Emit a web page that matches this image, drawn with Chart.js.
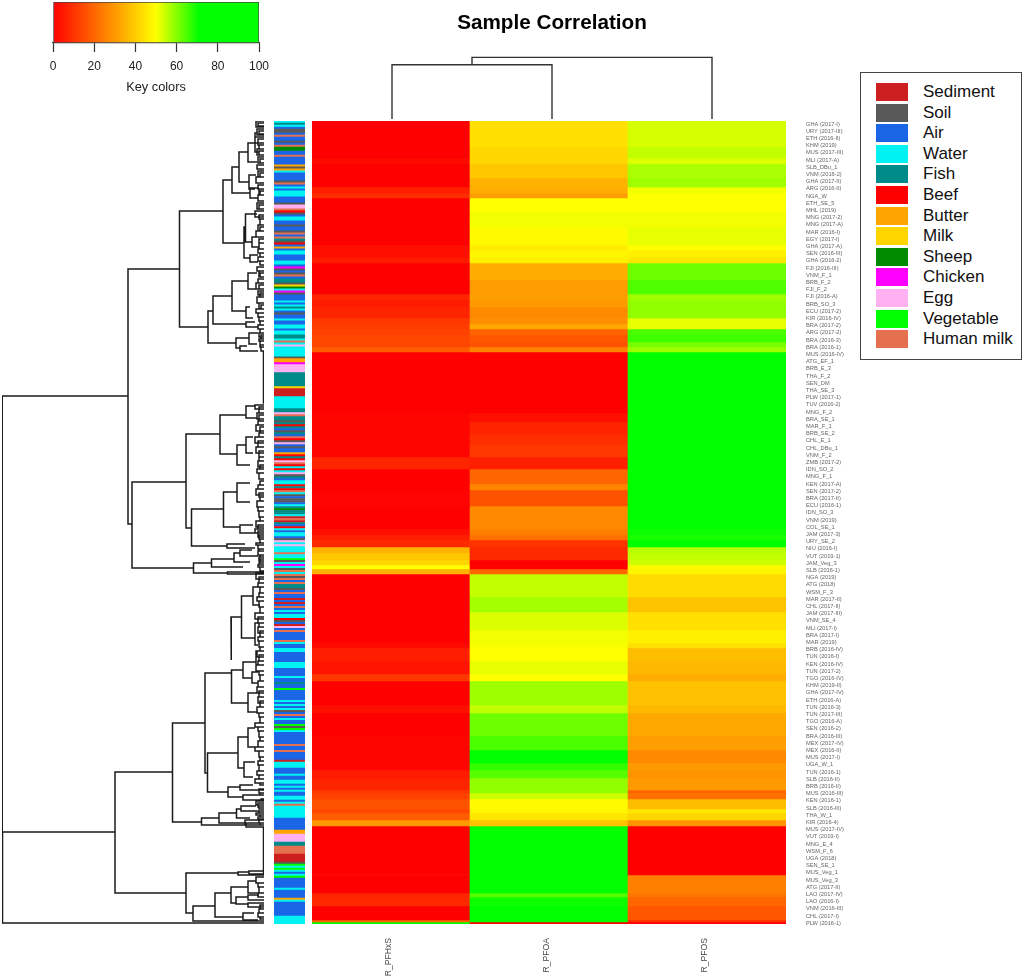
<!DOCTYPE html>
<html>
<head>
<meta charset="utf-8">
<title>Sample Correlation</title>
<script src="https://cdn.jsdelivr.net/npm/chart.js@4"></script>
<style>
  body { margin: 0; background: #fff; font-family: "Liberation Sans", Arial, sans-serif; }
  #page { position: relative; width: 1024px; height: 977px; overflow: hidden; }
  #page canvas { position: absolute; }
  #legend { position: absolute; left: 860px; top: 72px; width: 160px; height: 286px; border: 1.5px solid #444; }
  .row { position: absolute; left: 15px; height: 20.4px; font-size: 17px; line-height: 20.4px; color: #111; white-space: nowrap; }
  .row i { position: absolute; left: 0; top: 1px; width: 32px; height: 18px; }
  .row span { position: absolute; left: 47px; }
</style>
</head>
<body>
<div id="page">
  <canvas id="key" style="left:0;top:0;width:300px;height:95px"></canvas>
  <canvas id="topTree" style="left:312px;top:0;width:480px;height:121px"></canvas>
  <canvas id="sideTree" style="left:0;top:119px;width:266px;height:807px"></canvas>
  <canvas id="side" style="left:274px;top:121px;width:31px;height:803px"></canvas>
  <canvas id="heat" style="left:312px;top:121px;width:534px;height:856px"></canvas>
  <div id="legend"></div>
</div>
<script>
const columns = ['R_PFHxS', 'R_PFOA', 'R_PFOS'];

// heatmap bands, top to bottom: how many sample rows each band covers and its value per column
const bandRows = [13,5.5,3,7,4.5,3,2.5,7,7.5,9,2.5,3.5,3,8.5,7,3,3.5,5.5,3,2.5,3,3.5,2.5,2.5,
  30.5,4.5,6.5,5,6,6,7.5,3,8,11.5,3,2.5,3.5,3,3.5,2.5,2,2.5,
  11.5,7.5,9,6.5,2.5,6.5,6.5,3.5,12,4,11.5,7,6.5,3.5,4,6,1.5,3,5,2,3.5,3,
  24,0.5,9,2,4.5,7,1,1];
const pfhxs = [0,0,2,0,0,6,9,0,0,0,3,3,5,0,0,7,5,7,11,12,13,14,14,18,
  0,1,1,1,1,7,0,0,0.5,0,3,6,8,35,39,42,50,35,
  0,0,0,0,2,6,4,11,0,3,0,1,1,1,5,7,11,13,16,14,18,30,
  0,3,0,7,8,0,20,71];
const pfoa = [44,42,42,39,35,34,31,50,51,49,46,48,47,34,30.5,31,30,27,28,33,19.5,17,16,26,
  0,3,7,9,11,6,20,26,16,27,25,22,10,8,8,0,0,20,
  55,57.5,53,51,50.5,50,52,50,58,55,62,65,71,67,64,59,59,54,49,48,45,38,
  71,71,71,64,70,71,71,0];
const pfos = [53.5,55,53,57,58,51,50,50,51,52,50,47,45,62,64.5,58,59,59,52,52,65,66,61,58,
  71,72,71,71,71,71,71,71,71,71,70,69,71,56,55,54,49,48,
  43,38.5,44,47,44,37,36,34,38,36,33,31,27,30,29,30,20,22,37,45,42,29,
  0,0,25,23,20,17,9,0];

const sampleTypeNames = ['Sediment','Soil','Air','Water','Fish','Beef','Butter','Milk','Sheep','Chicken','Egg','Vegetable','Human milk'];
const sampleTypeCodes = ['S','L','A','W','F','B','U','M','H','C','E','V','N'];
const sampleTypeColors = ['#cd1f1f','#595959','#1a66e6','#00f2f2','#008b8b','#ff0000','#ffa500','#ffd500','#008a00','#ff00ff','#ffb0f0','#00ff00','#e57050'];

// colour bar beside the heatmap, one letter per sample row
const rowTypes = ('WFWALLANAALANHHAANAAAAULUWAAAALNAWAWWWAAALEENBLAWWAALAALNANFLBAUAWWAAAWWACLALNAFFLMHWCLAAA'
  + 'WAWFWALAAWAAWWAWWFFWNWEWWWWWLUUCEEEEFFFFFFFMSSSSWWWWWWFFENFFLFBFALFANBLEALAAUBFBENBWBWELFAWWBFBNWLALLAW'
  + 'FHFFWSNSFABWAWWALEWEWWWNWWVLWCWLNWNLNANFFLANAASASANAWAWWBLASEANAAAANWAAWWAAAAAWWWAAAAWAAFAAVAAAAAWAWAW'
  + 'LANAWAAVLVWAAAAAANAANAAAASWWWAAAWAAWWAWAWAAWWAWNWWWWWWAAAAAAUUEEEEFFNNNNSSSSLVWVWAWVAAAAAWAAAAUWAAAAAAAWWWW').split('');

// every 3.6th-or-so sample is labelled
const sampleLabels = ['GHA (2017-I)','URY (2017-III)','ETH (2016-II)','KHM (2019)','MUS (2017-III)','MLI (2017-A)','SLB_DBu_1','VNM (2016-2)','GHA (2017-II)','ARG (2016-II)',
  'NGA_W','ETH_SE_5','MHL (2019)','MNG (2017-2)','MNG (2017-A)','MAR (2016-I)','EGY (2017-I)','GHA (2017-A)','SEN (2016-III)','GHA (2016-2)',
  'FJI (2016-III)','VNM_F_1','BRB_F_2','FJI_F_2','FJI (2016-A)','BRB_SO_3','ECU (2017-2)','KIR (2016-IV)','BRA (2017-2)','ARG (2017-2)',
  'BRA (2016-3)','BRA (2016-1)','MUS (2016-IV)','ATG_EF_1','BRB_E_3','THA_F_2','SEN_DM','THA_SE_3','PLW (2017-1)','TUV (2016-2)',
  'MNG_F_2','BRA_SE_1','MAR_F_1','BRB_SE_2','CHL_E_1','CHL_DBu_1','VNM_F_2','ZMB (2017-2)','IDN_SO_2','MNG_F_1',
  'KEN (2017-A)','SEN (2017-2)','BRA (2017-II)','ECU (2016-1)','IDN_SO_3','VNM (2019)','COL_SE_1','JAM (2017-3)','URY_SE_2','NIU (2016-I)',
  'VUT (2019-1)','JAM_Veg_3','SLB (2016-1)','NGA (2019)','ATG (2018)','WSM_F_3','MAR (2017-II)','CHL (2017-II)','JAM (2017-III)','VNM_SE_4',
  'MLI (2017-I)','BRA (2017-I)','MAR (2019)','BRB (2016-IV)','TUN (2016-I)','KEN (2016-IV)','TUN (2017-2)','TGO (2016-IV)','KHM (2019-II)','GHA (2017-IV)',
  'ETH (2016-A)','TUN (2016-3)','TUN (2017-III)','TGO (2016-A)','SEN (2016-2)','BRA (2016-III)','MEX (2017-IV)','MEX (2016-II)','MUS (2017-I)','UGA_W_1',
  'TUN (2016-1)','SLB (2016-II)','BRB (2016-II)','MUS (2016-III)','KEN (2016-1)','SLB (2016-III)','THA_W_1','KIR (2016-4)','MUS (2017-IV)','VUT (2019-I)',
  'MNG_E_4','WSM_F_6','UGA (2018)','SEN_SE_1','MUS_Veg_1','MUS_Veg_3','ATG (2017-II)','LAO (2017-IV)','LAO (2016-I)','VNM (2016-III)',
  'CHL (2017-I)','PLW (2016-1)'];

// column dendrogram: [height, left leaf, right leaf, left child height, right child height]
const columnMerges = [
  [54.3, 0.5, 1.5, 0, 0],
  [61.7, 1.0, 2.5, 54.3, 0]
];

// row dendrogram: [height, row a, row b, child height a, child height b]
const mergesUpper = [
  [262,137.5,378.5,136,261.5],[136,74,201.5,84.5,132],[84.5,45,103,41,56],[41,29.5,61,32,20],[32,23,36,25,14],
  [25,15.5,30.5,16,15],[16,11,20.5,9,7],[9,6,15.5,7,5],[15,27,34,8,9],[14,33.5,38.5,5,6],
  [20,53,68.5,18.5,14],[18.5,46.5,60.5,7,12],[12,58,63,5,5],[14,67,70.5,6,6],
  [56,95,111,51,28],[51,87.5,101.5,32,18],[32,80,95,16,18],[16,76,84,7,8],[18,93,98.5,14,11],[18,100.5,103,9,6],
  [28,108.5,113.5,15,24],[15,106,111.5,6,7],[24,112.5,115,17,6],[0.5,115,141,0,0]
];
const mergesMiddle = [
  [132,180.5,223.5,78,70.5],[78,156.5,203.5,44,72.5],[72.5,194,212.5,40.5,37],[44,147,166.5,18,27],[18,142.5,148.5,9,7],
  [27,162,172,18,14],[18,158,166,11,11],[40.5,185.5,203,27,24],[27,181,190.5,14,14],[24,202,206,11,8],[37,211.5,213.5,19,9],
  [70.5,221,226,52.5,36.5],[52.5,219,223,30,21],[30,216,220.5,24,14],[24,214.5,217.5,12,6],[36.5,225.5,226.5,0,0]
];
const mergesLower = [
  [261.5,355.5,401,149,0],[149,325.5,386,91.5,78],[91.5,301,350.5,59,62.5],[59,276,326,33,56.5],[33,248,269.5,22.5,32.5],
  [32.5,274.5,291,21,16],[22.5,237.5,258.5,11,9],[11,233,242,6,4],[9,251,262,6,6],[21,270.5,278.5,8,12],[8,265,275,4,4],
  [12,275.5,281,6,6],[16,286,295.5,7,7],[56.5,316,335.5,26,36],[26,308,323.5,16,20],[16,303.5,313,9,6],[20,320.5,328,9,11],
  [36,333,338,24,21],[24,332,334.5,11,0],[21,337,339.5,0,0],[62.5,348.5,352,45,18],[45,346,351,27.5,19],[27.5,344,348.5,23,14],
  [23,342.5,345,8,0],[18,351,353,0,0],[19,349.5,352,0,0],[0.5,353,376,0,0],
  [78,376,396,26,71],[26,375.5,377,15,0],[15,375,376.5,0,0],[71,392.5,400,49,0],[49,386,398,33,21],[33,383,391,16,28],
  [16,380,386,8,6],[28,388,391.5,16,16],[16,387,389.5,5,0],[16,391,393,0,0],[21,396,399.5,10,6]
];
// small forks next to the leaves: [height, row a, row b]
const forksUpper = [[8,0,3],[6,1,2.5],[7,4,7],[5,5,6.5],[9,8,11],[6,9,12],[5,12,14],[7,14,17],[5,15,17],[6,18,21],[4,19,21],[7,22,24],[6,25,28],[4,26,28],[8,28,31],
  [6,32,34],[5,34,37],[4,35,37],[6,37,40],[7,41,44],[5,42,44],[9,45,48],[5,47,49],[4,49,52],[6,52,55],[4,53,55],[8,55,58],[5,59,61],[5,61,64],[6,64,66],[4,66,68],
  [6,68,70],[4,70,72],[7,73,75],[5,75,78],[4,76,78],[6,79,81],[8,81,84],[5,82,84],[6,85,87],[4,86,88],[7,88,91],[5,91,94],[3,92,94],[8,94,96],[6,96,98],[5,98,100],
  [4,100,102],[6,102,104],[4,104,106],[5,106,108],[3,107,109],[5,109,110],[4,110,112],[4,112,113],[3,113,115]];
const forksMiddle = [[9,142,144],[5,143,146],[7,146,149],[5,147,150],[6,150,152],[8,152,155],[4,153,156],[5,156,158],[9,158,161],[6,160,163],[8,163,166],[5,165,168],
  [5,168,170],[6,170,173],[4,172,174],[7,174,176],[5,176,179],[4,180,182],[6,182,184],[8,184,187],[5,186,188],[4,188,190],[7,190,193],[6,193,195],[5,195,198],
  [4,198,200],[8,200,203],[6,202,204],[9,204,206],[6,205,208],[5,207,209],[4,209,211],[8,211,212],[6,212,214],[5,214,215],[6,215,217],[4,217,218],[5,218,220],
  [4,219,221],[5,221,222],[6,222,223],[4,223,225]];
const forksLower = [[8,226,229],[5,228,231],[6,231,233],[4,233,236],[5,236,238],[7,238,240],[5,240,243],[4,243,246],[9,246,249],[6,248,251],[5,251,253],[6,253,256],
  [4,255,258],[6,258,260],[5,260,263],[4,263,265],[7,265,268],[5,267,270],[6,270,272],[8,272,275],[5,275,277],[4,277,280],[6,280,283],[7,283,286],[5,285,288],
  [6,288,291],[4,290,293],[7,293,296],[5,296,298],[4,298,301],[9,301,303],[6,303,305],[5,305,308],[4,308,310],[6,310,313],[9,313,315],[5,315,318],[4,318,320],
  [6,320,322],[5,322,325],[7,325,327],[5,327,329],[9,329,331],[4,331,332],[5,334,336],[4,336,337],[3,339,340],[8,340,342],[6,341,343],[5,343,344],[5,345,346],
  [8,346,347],[4,347,348],[6,348,349],[5,349.5,351],[4,351,352],[8,378,381],[6,381,383],[5,383,386],[6,386,388],[4,392,394],[5,394,396],[6,396,398],[4,398,399]];

const keyTicks = [0, 20, 40, 60, 80, 100];
const keyStops = [[0, '#ff0000'], [50, '#ffff00'], [71, '#00ff00'], [100, '#00ff00']];

Chart.defaults.animation = false;
Chart.defaults.responsive = false;
Chart.defaults.font.family = '"Liberation Sans", Arial, sans-serif';
Chart.defaults.plugins.legend.display = false;
Chart.defaults.plugins.tooltip.enabled = false;

function sizeCanvas(id) {
  const c = document.getElementById(id);
  c.width = parseFloat(c.style.width);
  c.height = parseFloat(c.style.height);
  return c;
}

// same scale as the key: red at 0, yellow at 50, green from 71
function valueColor(v) {
  let r, g;
  if (v <= 50) { r = 255; g = 255 * v / 50; }
  else if (v <= 71) { r = 255 * (71 - v) / 21; g = 255; }
  else { r = 0; g = 255; }
  return 'rgb(' + Math.round(r) + ',' + Math.round(g) + ',0)';
}

function noPadding(s) {
  s.paddingTop = s.paddingBottom = s.paddingLeft = s.paddingRight = 0;
}

// --- heatmap
const heatSets = bandRows.map((rows, i) => ({
  data: [rows, rows, rows],
  backgroundColor: [valueColor(pfhxs[i]), valueColor(pfoa[i]), valueColor(pfos[i])],
  barPercentage: 1,
  categoryPercentage: 1
}));
const totalRows = bandRows.reduce((a, b) => a + b, 0);

new Chart(sizeCanvas('heat'), {
  type: 'bar',
  data: { labels: columns, datasets: heatSets },
  options: {
    layout: { autoPadding: false },
    scales: {
      x: {
        stacked: true,
        grid: { display: false, drawTicks: false },
        border: { display: false },
        ticks: { minRotation: 90, maxRotation: 90, padding: 14, labelOffset: -2, color: '#444', font: { size: 8.6 } },
        afterFit: s => { s.height = 53; noPadding(s); }
      },
      y: { stacked: true, reverse: true, min: 0, max: totalRows, display: false },
      labels: {
        position: 'right',
        min: 0,
        max: totalRows,
        reverse: true,
        grid: { display: false, drawTicks: false },
        border: { display: false },
        afterBuildTicks: s => { s.ticks = sampleLabels.map((t, i) => ({ value: 1.5 + i * 3.6 })); },
        ticks: {
          autoSkip: false,
          maxRotation: 0,
          padding: 20,
          color: '#666',
          font: { size: 5.7 },
          callback: (v, i) => sampleLabels[i]
        },
        afterFit: s => { s.width = 60; noPadding(s); }
      }
    }
  }
});

// --- colour bar
new Chart(sizeCanvas('side'), {
  type: 'bar',
  data: {
    labels: rowTypes.map((t, i) => i + 1),
    datasets: [{
      data: rowTypes.map(() => 1),
      backgroundColor: rowTypes.map(t => sampleTypeColors[sampleTypeCodes.indexOf(t)]),
      barPercentage: 1,
      categoryPercentage: 1
    }]
  },
  options: {
    indexAxis: 'y',
    layout: { autoPadding: false },
    scales: { x: { min: 0, max: 1, display: false }, y: { display: false } }
  }
});

// --- dendrograms, one broken line each
function elbow(points, h, a, b, ha, hb, toPoint) {
  points.push(toPoint(ha, a), toPoint(h, a), toPoint(h, b), toPoint(hb, b), { x: NaN, y: NaN });
}

const rowPoints = [];
mergesUpper.concat(mergesMiddle, mergesLower).forEach(m =>
  elbow(rowPoints, m[0], m[1], m[2], m[3], m[4], (h, r) => ({ x: h, y: r })));
forksUpper.concat(forksMiddle, forksLower).forEach(f =>
  elbow(rowPoints, f[0], f[1], f[2], 0, 0, (h, r) => ({ x: h, y: r })));

new Chart(sizeCanvas('sideTree'), {
  type: 'scatter',
  data: { datasets: [{ data: rowPoints, showLine: true, spanGaps: false, pointRadius: 0, borderColor: '#1a1a1a', borderWidth: 1.5 }] },
  options: {
    layout: { autoPadding: false, padding: { left: 2, right: 2, top: 2, bottom: 2 } },
    scales: {
      x: { reverse: true, min: 0, max: 262, display: false },
      y: { reverse: true, min: 0, max: totalRows, display: false }
    }
  }
});

const columnPoints = [];
columnMerges.forEach(m =>
  elbow(columnPoints, m[0], m[1], m[2], m[3], m[4], (h, c) => ({ x: c, y: h })));

new Chart(sizeCanvas('topTree'), {
  type: 'scatter',
  data: { datasets: [{ data: columnPoints, showLine: true, spanGaps: false, pointRadius: 0, borderColor: '#333', borderWidth: 1.4 }] },
  options: {
    layout: { autoPadding: false, padding: { bottom: 2 } },
    plugins: {
      title: {
        display: true,
        text: 'Sample Correlation',
        color: '#000',
        font: { size: 20.7, weight: 'bold' },
        padding: { top: 11, bottom: 14.2 }
      }
    },
    scales: {
      x: { min: 0, max: 3, display: false },
      y: { min: 0, max: 69, display: false }
    }
  }
});

// --- colour key
new Chart(sizeCanvas('key'), {
  type: 'bar',
  data: {
    labels: ['Key'],
    datasets: [{
      data: [100],
      barPercentage: 1,
      categoryPercentage: 1,
      borderColor: '#444',
      borderWidth: 1,
      borderSkipped: false,
      backgroundColor: c => {
        const { chartArea, ctx, scales } = c.chart;
        if (!chartArea) return '#fff';
        const g = ctx.createLinearGradient(scales.x.getPixelForValue(0), 0, scales.x.getPixelForValue(100), 0);
        keyStops.forEach(s => g.addColorStop(s[0] / 100, s[1]));
        return g;
      }
    }]
  },
  options: {
    indexAxis: 'y',
    layout: { autoPadding: false, padding: { left: 53, right: 41, top: 2 } },
    scales: {
      x: {
        min: 0,
        max: 100,
        grid: { drawOnChartArea: false, tickLength: 9, tickColor: '#333', tickWidth: 1.2 },
        border: { color: '#333', width: 1.2 },
        afterBuildTicks: s => { s.ticks = keyTicks.map(v => ({ value: v })); },
        ticks: { color: '#222', padding: 7, maxRotation: 0, font: { size: 12 } },
        title: { display: true, text: 'Key colors', color: '#222', font: { size: 12.8 }, padding: { top: 3, bottom: 0 } },
        afterFit: s => { s.height = 52; noPadding(s); }
      },
      y: { display: false }
    }
  }
});

// --- legend
const legend = document.getElementById('legend');
sampleTypeNames.forEach((name, i) => {
  const row = document.createElement('div');
  row.className = 'row';
  row.style.top = (9 + i * 20.6) + 'px';
  row.innerHTML = '<i style="background:' + sampleTypeColors[i] + '"></i><span>' + name + '</span>';
  legend.appendChild(row);
});
</script>
</body>
</html>
